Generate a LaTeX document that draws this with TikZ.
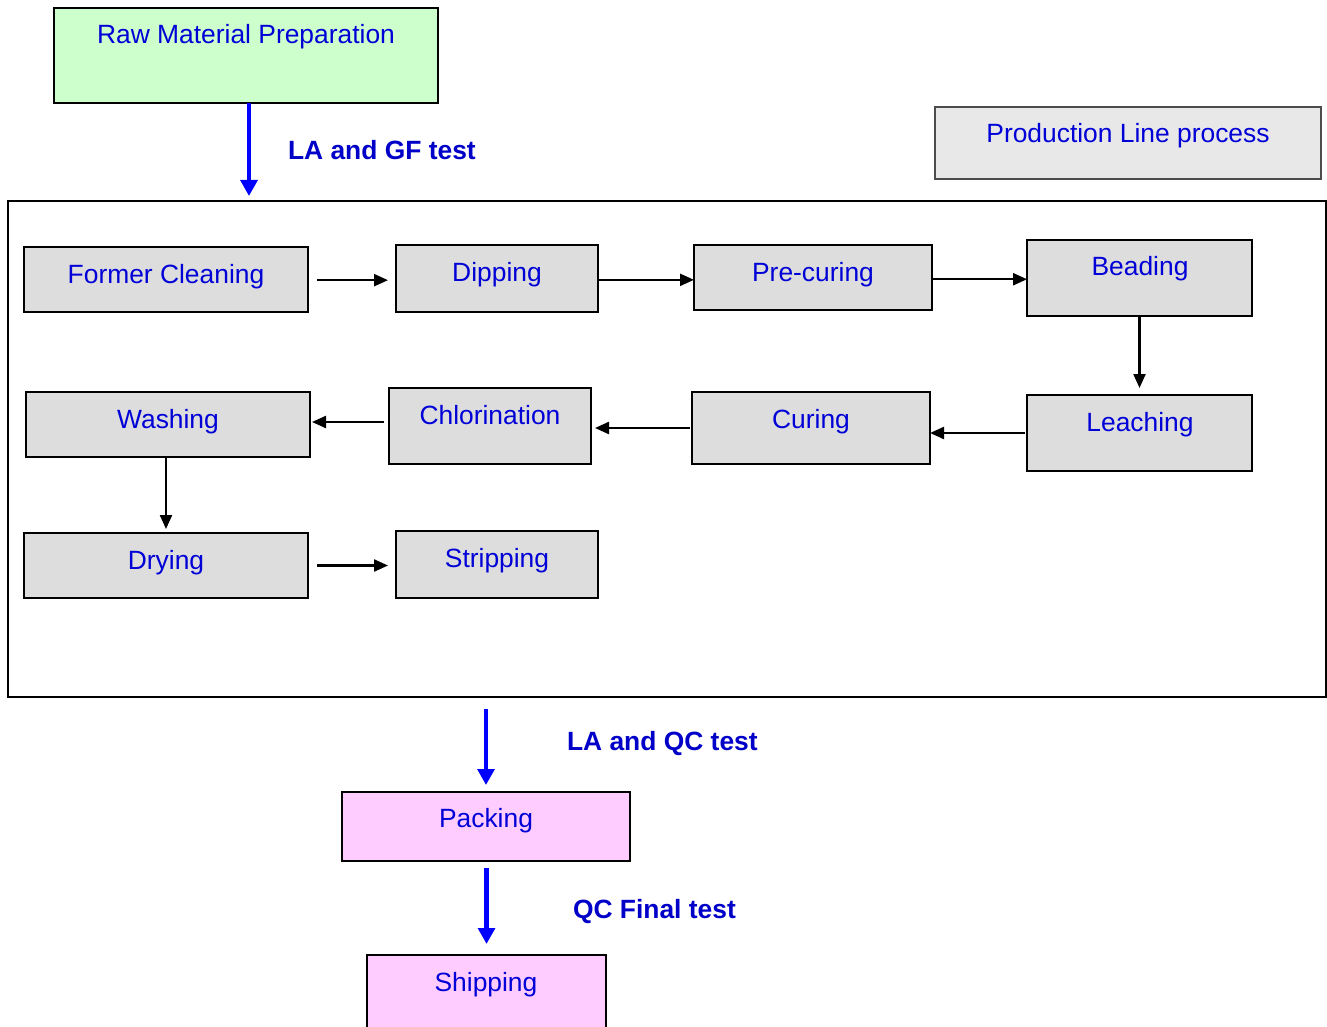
\documentclass[tikz,border=0pt]{standalone}
\usepackage{fontspec}
\setmainfont{Liberation Sans}
\usetikzlibrary{arrows.meta}
\definecolor{txtblue}{RGB}{0,0,215}
\definecolor{lblblue}{RGB}{0,0,200}
\definecolor{arrblue}{RGB}{0,0,255}
\definecolor{procgray}{RGB}{221,221,221}
\definecolor{headgray}{RGB}{232,232,232}
\definecolor{rawgreen}{RGB}{204,255,204}
\definecolor{packpink}{RGB}{255,204,255}
\newcommand\pbox[6]{\node[#6, minimum width={(#4-#2)*0.75pt}, minimum height={(#5-#3)*0.75pt}] (#1) at ({(#2+#4)/2},{(#3+#5)/2}) {};}
\begin{document}
\begin{tikzpicture}[x=0.75pt,y=-0.75pt,
  every node/.style={inner sep=0pt, outer sep=0pt},
  pbx/.style={draw=black, line width=1.4pt, fill=procgray},
  rawbx/.style={draw=black, line width=1.4pt, fill=rawgreen},
  headbx/.style={draw=black!70, line width=1.4pt, fill=headgray},
  packbx/.style={draw=black, line width=1.4pt, fill=packpink},
  framebx/.style={draw=black, line width=1.3pt},
  txt/.style={anchor=base, text=txtblue, font=\fontsize{19.8}{22}\selectfont},
  lbl/.style={anchor=base west, text=lblblue, font=\fontsize{19.8}{22}\selectfont\bfseries},
  arr/.style={draw=black, line width=1.7pt, -{Triangle[length=10.5pt,width=9pt]}},
  barr/.style={draw=arrblue, line width=3.2pt, -{Triangle[length=12pt,width=12.5pt]}}]
\clip (0,0) rectangle (1327,1027);

% boxes
\pbox{raw}{54}{8}{438}{103}{rawbx}
\pbox{head}{935}{107}{1321}{179}{headbx}
\pbox{line}{8}{201}{1326}{697}{framebx}
\pbox{fc}{24}{247}{308}{312}{pbx}
\pbox{dip}{396}{245}{598}{312}{pbx}
\pbox{pre}{694}{245}{932}{310}{pbx}
\pbox{bead}{1027}{240}{1252}{316}{pbx}
\pbox{leach}{1027}{395}{1252}{471}{pbx}
\pbox{cur}{692}{392}{930}{464}{pbx}
\pbox{chl}{389}{388}{591}{464}{pbx}
\pbox{wash}{26}{392}{310}{457}{pbx}
\pbox{dry}{24}{533}{308}{598}{pbx}
\pbox{strip}{396}{531}{598}{598}{pbx}
\pbox{pack}{342}{792}{630}{861}{packbx}
\pbox{ship}{367}{955}{606}{1035}{packbx}

% texts
\node[txt] (t-raw) at (246,44) {Raw Material Preparation};
\node[txt] (t-head) at (1128,143) {Production Line process};
\node[txt] (t-fc) at (166,283) {Former Cleaning};
\node[txt] (t-dip) at (497,281) {Dipping};
\node[txt] (t-pre) at (813,281) {Pre-curing};
\node[txt] (t-bead) at (1140,275) {Beading};
\node[txt] (t-leach) at (1140,431) {Leaching};
\node[txt] (t-cur) at (811,428) {Curing};
\node[txt] (t-chl) at (490,424) {Chlorination};
\node[txt] (t-wash) at (168,428) {Washing};
\node[txt] (t-dry) at (166,569) {Drying};
\node[txt] (t-strip) at (497,567) {Stripping};
\node[txt] (t-pack) at (486,827) {Packing};
\node[txt] (t-ship) at (486,991) {Shipping};

% labels
\node[lbl] (l-gf) at (288,160) {LA and GF test};
\node[lbl] (l-qc) at (567,750) {LA and QC test};
\node[lbl] (l-fin) at (573,918) {QC Final test};

% process arrows
\draw[arr, shorten <=6.75pt, shorten >=6pt] ([yshift=-0.5pt]fc.east) -- ([yshift=-0.5pt]fc.east -| dip.west);
\draw[arr] ([yshift=-1pt]dip.east) -- ([yshift=-1pt]dip.east -| pre.west);
\draw[arr] ([yshift=-1.3pt]pre.east) -- ([yshift=-1.3pt]pre.east -| bead.west);
\draw[arr, shorten >=5.25pt] (bead.south) -- (leach.north);
\draw[arr, shorten <=1.5pt] (leach.west) -- (leach.west -| cur.east);
\draw[arr, shorten <=1.5pt, shorten >=3pt] (cur.west) -- (cur.west -| chl.east);
\draw[arr, shorten <=3.75pt, shorten >=1.5pt] ([yshift=3pt]chl.west) -- ([yshift=3pt]chl.west -| wash.east);
\draw[arr, shorten >=3pt] ([xshift=-1.5pt]wash.south) -- ([xshift=-1.5pt]wash.south |- dry.north);
\draw[arr, shorten <=6.75pt, shorten >=6pt] (dry.east) -- (dry.east -| strip.west);

% blue arrows
\draw[barr, shorten >=3.75pt] ([xshift=2.25pt]raw.south) -- ([xshift=2.25pt]raw.south |- line.north);
\draw[barr, shorten <=9pt, shorten >=5.25pt] (pack.north |- line.south) -- (pack.north);
\draw[barr, shorten <=5.25pt, shorten >=8.25pt] ([xshift=0.4pt]pack.south) -- ([xshift=0.4pt]pack.south |- ship.north);
\end{tikzpicture}
\end{document}
